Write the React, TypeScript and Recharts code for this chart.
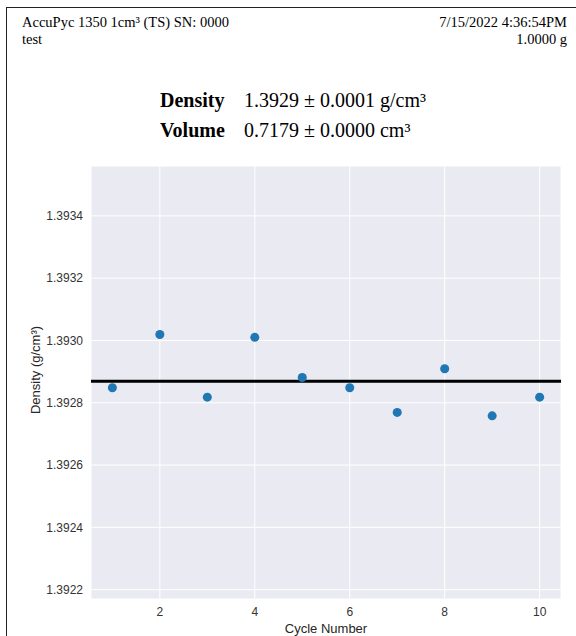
import React from 'react';
import { ScatterChart, Scatter, XAxis, YAxis, CartesianGrid, ReferenceLine, Label } from 'recharts';

const cycles = [1, 2, 3, 4, 5, 6, 7, 8, 9, 10];
const densities = [1.392848, 1.393019, 1.392818, 1.39301, 1.392881, 1.392848, 1.392769, 1.392909, 1.392758, 1.392818];
const meanDensity = 1.392869;
const xTicks = [2, 4, 6, 8, 10];
const yTicks = [1.3922, 1.3924, 1.3926, 1.3928, 1.393, 1.3932, 1.3934];

const headerLeft = ['AccuPyc 1350 1cm³ (TS) SN: 0000', 'test'];
const headerRight = ['7/15/2022 4:36:54PM', '1.0000 g'];
const summaryLabels = ['Density', 'Volume'];
const summaryValues = ['1.3929 ± 0.0001 g/cm³', '0.7179 ± 0.0000 cm³'];

const data = cycles.map((c, i) => ({ cycle: c, density: densities[i] }));

const serif = '"Liberation Serif", "Times New Roman", serif';
const sans = '"Liberation Sans", Arial, sans-serif';

export default function App() {
  return (
    <div style={{ position: 'absolute', left: 0, top: 0, width: 576, height: 636, background: '#fff', overflow: 'hidden' }}>
      <div style={{ position: 'absolute', left: 6, top: 7, width: 580, height: 640, borderLeft: '1.5px solid #222', borderTop: '1.5px solid #222' }} />
      <div style={{ position: 'absolute', left: 0, top: 0 }}>
        <ScatterChart width={576} height={636} margin={{ top: 166, right: 15, bottom: 0, left: 31 }}>
          <CartesianGrid fill="#eaeaf2" stroke="#ffffff" strokeWidth={1} />
          <XAxis
            type="number"
            dataKey="cycle"
            domain={[0.55, 10.45]}
            ticks={xTicks}
            allowDataOverflow
            axisLine={false}
            tickLine={false}
            height={37}
            tick={{ fill: '#333', fontSize: 12, fontFamily: sans }}
          >
            <Label value="Cycle Number" position="insideBottom" offset={3} style={{ fill: '#262626', fontSize: 13, fontFamily: sans }} />
          </XAxis>
          <YAxis
            type="number"
            dataKey="density"
            domain={[1.39217, 1.39356]}
            ticks={yTicks}
            allowDataOverflow
            axisLine={false}
            tickLine={false}
            width={60}
            tick={{ fill: '#333', fontSize: 12, fontFamily: sans }}
            tickFormatter={(v: number) => v.toFixed(4)}
          >
            <Label
              content={() => (
                <text
                  x={35}
                  y={370}
                  transform="rotate(-90 35 370)"
                  textAnchor="middle"
                  dominantBaseline="central"
                  style={{ fill: '#262626', fontSize: 13, fontFamily: sans }}
                >
                  Density (g/cm³)
                </text>
              )}
            />
          </YAxis>
          <ReferenceLine y={meanDensity} stroke="#000" strokeWidth={3} ifOverflow="extendDomain" />
          <Scatter data={data} fill="#1f77b4" isAnimationActive={false} />
        </ScatterChart>
      </div>
      <svg width={576} height={636} style={{ position: 'absolute', left: 0, top: 0, pointerEvents: 'none' }}>
        <g style={{ fontFamily: serif, fontSize: 14.5, fill: '#000' }}>
          <text x={22} y={26.5}>{headerLeft[0]}</text>
          <text x={22} y={43.5}>{headerLeft[1]}</text>
          <text x={567} y={26.5} textAnchor="end">{headerRight[0]}</text>
          <text x={567} y={43.5} textAnchor="end">{headerRight[1]}</text>
        </g>
        <g style={{ fontFamily: serif, fontSize: 20, fill: '#000' }}>
          <text x={160} y={107} fontWeight="bold">{summaryLabels[0]}</text>
          <text x={244} y={107}>{summaryValues[0]}</text>
          <text x={160} y={137} fontWeight="bold">{summaryLabels[1]}</text>
          <text x={244} y={137}>{summaryValues[1]}</text>
        </g>
      </svg>
    </div>
  );
}
